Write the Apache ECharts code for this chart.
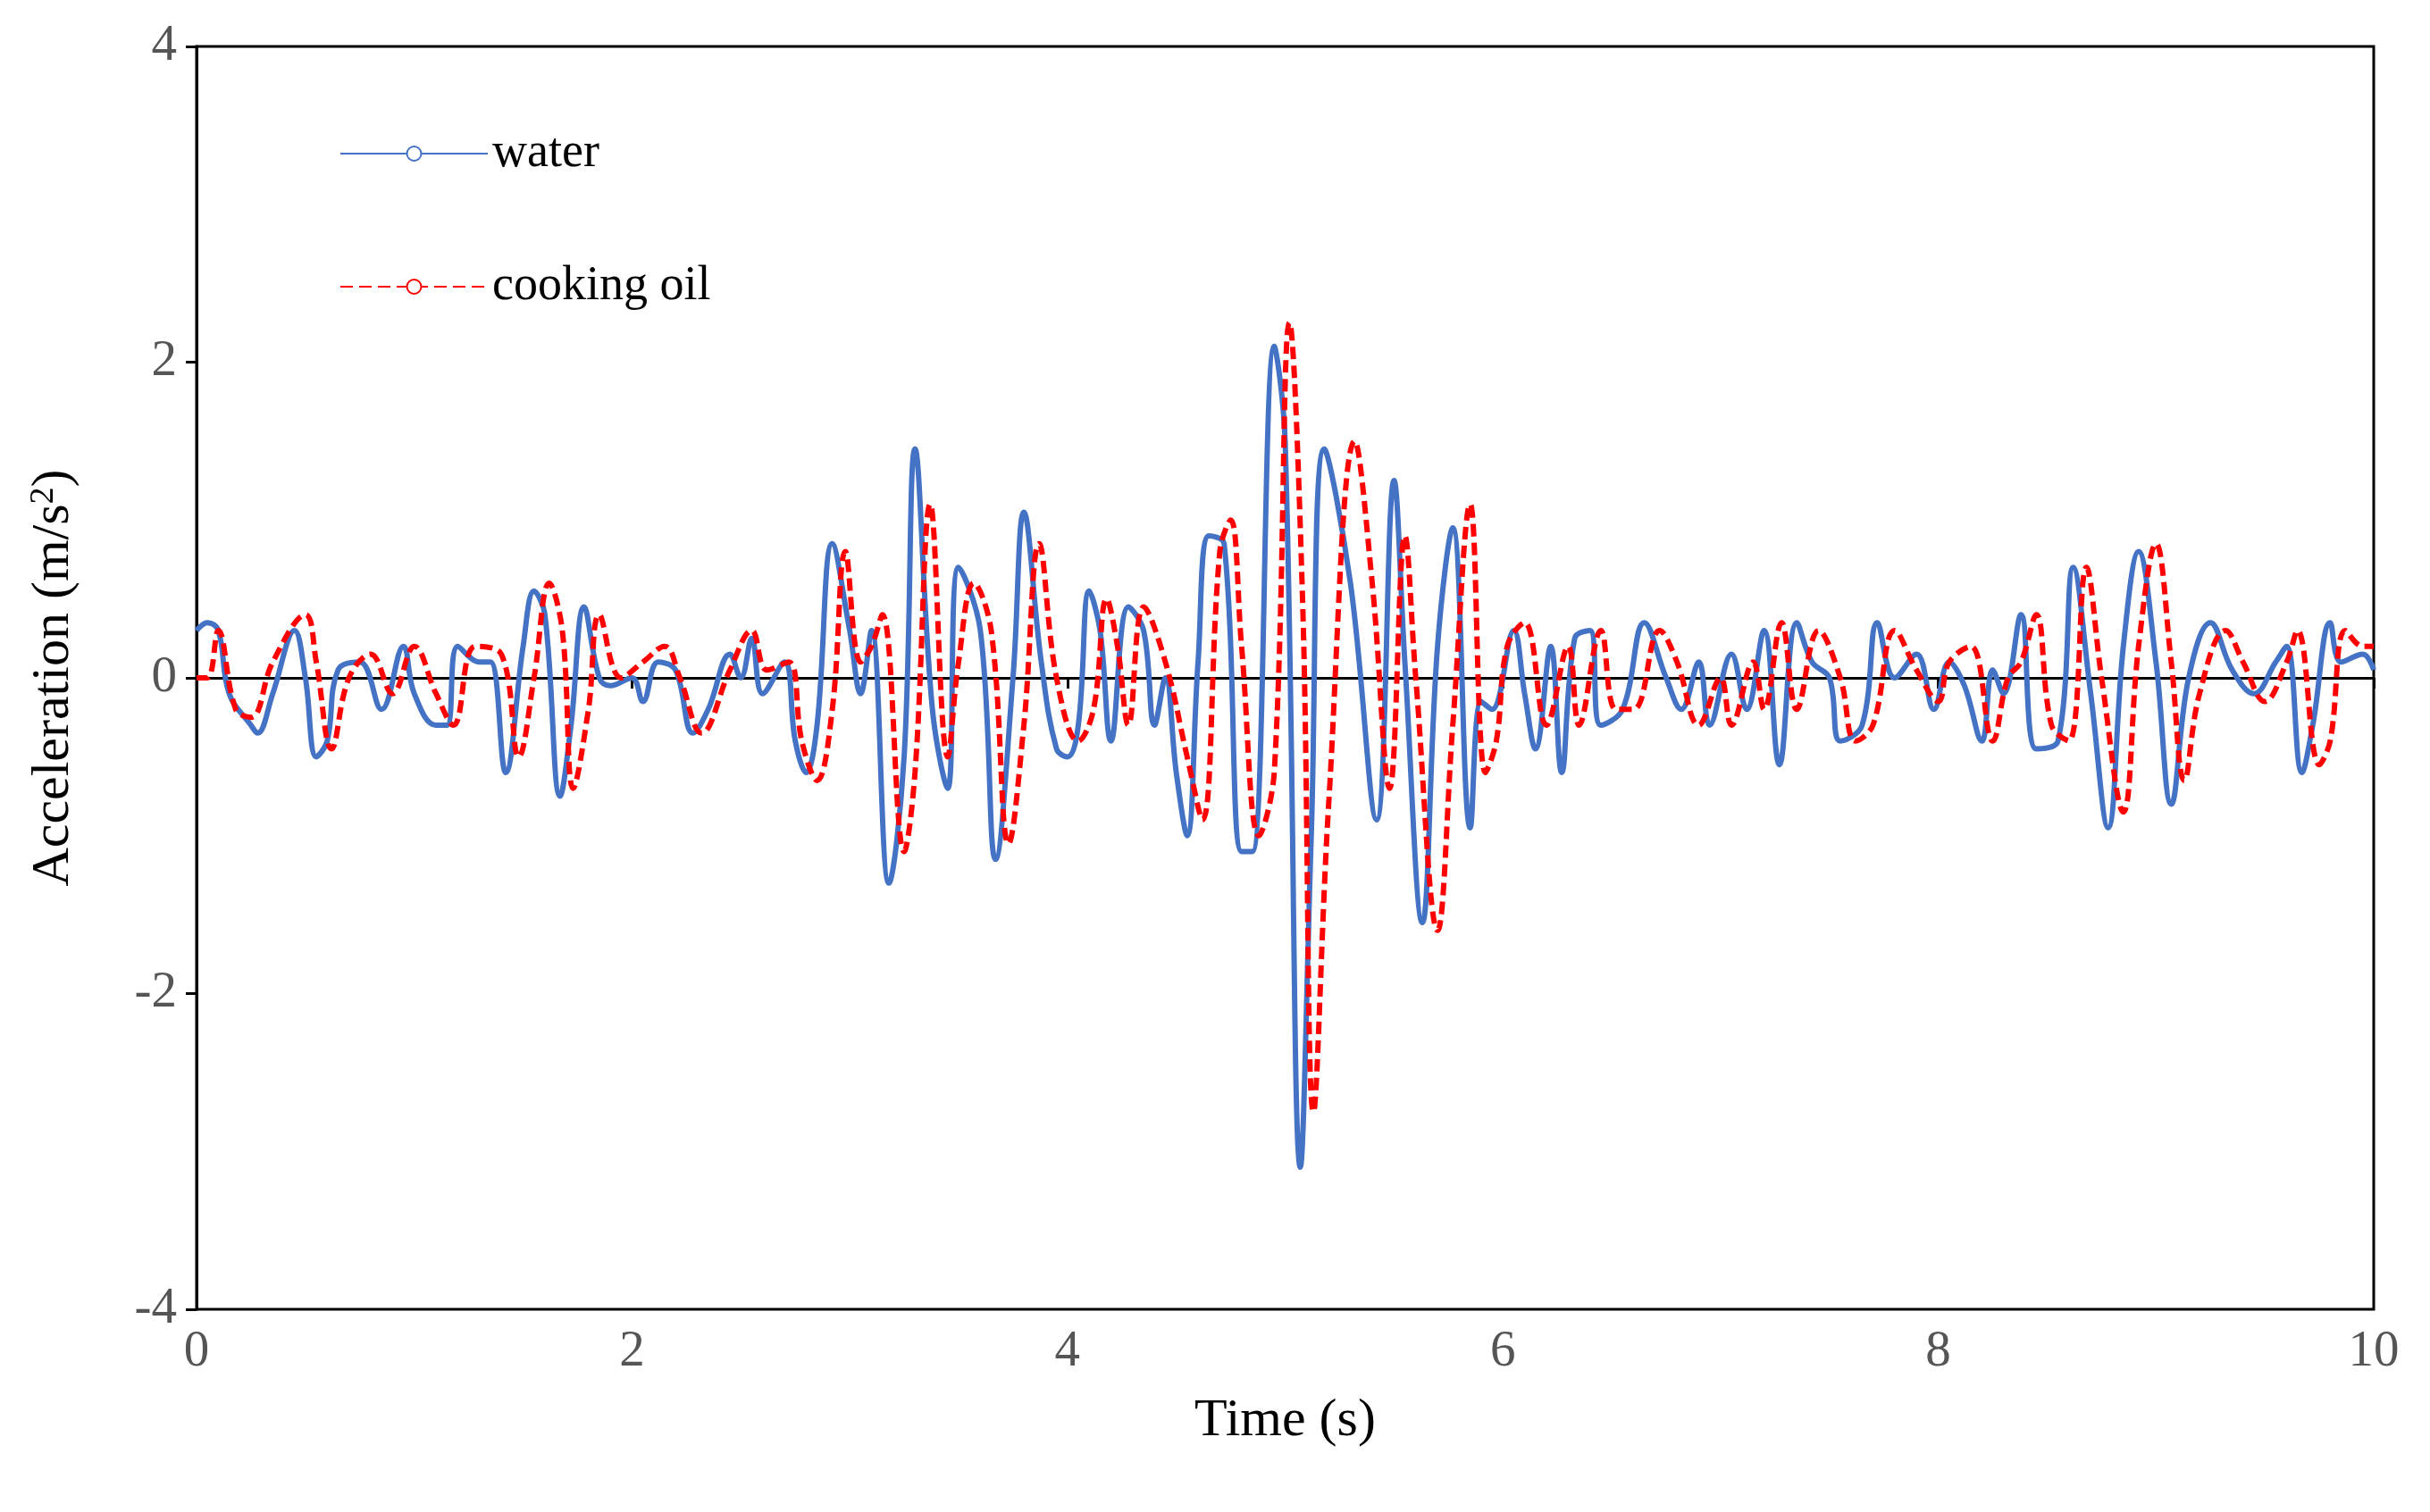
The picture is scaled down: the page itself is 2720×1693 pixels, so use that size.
<!DOCTYPE html>
<html>
<head>
<meta charset="utf-8">
<script src="https://cdn.jsdelivr.net/npm/echarts@6/dist/echarts.min.js"></script>
<style>
  html, body { margin: 0; padding: 0; background: #fff; }
  #main { width: 2720px; height: 1693px; }
</style>
</head>
<body>
<div id="main"></div>
<script>
// water: [time, acceleration]
var waterData = [
  [0,0.3],[0.05,0.35],[0.1,0.3],[0.15,-0.1],[0.25,-0.3],[0.28,-0.35],[0.35,-0.1],[0.45,0.3],[0.5,0.0],[0.55,-0.5],
  [0.6,-0.4],[0.65,0.05],[0.75,0.1],[0.85,-0.2],[0.95,0.2],[1.0,-0.1],[1.1,-0.3],[1.15,-0.3],[1.2,0.2],[1.3,0.1],
  [1.35,0.1],[1.42,-0.6],[1.5,0.2],[1.55,0.55],[1.6,0.4],[1.67,-0.75],[1.72,-0.3],[1.78,0.45],[1.85,0],[1.9,-0.05],
  [2.0,0],[2.05,-0.15],[2.12,0.1],[2.2,0.05],[2.28,-0.35],[2.35,-0.2],[2.45,0.15],[2.5,0.0],[2.55,0.25],[2.6,-0.1],
  [2.7,0.1],[2.75,-0.4],[2.8,-0.6],[2.85,-0.3],[2.92,0.85],[3.0,0.3],[3.05,-0.1],[3.1,0.3],[3.18,-1.3],[3.25,-0.5],
  [3.3,1.45],[3.38,-0.2],[3.45,-0.7],[3.5,0.7],[3.6,0.3],[3.67,-1.15],[3.75,0.0],[3.8,1.05],[3.88,0.1],[3.95,-0.45],
  [4.0,-0.5],[4.05,-0.3],[4.1,0.55],[4.15,0.3],[4.2,-0.4],[4.28,0.45],[4.35,0.3],[4.4,-0.3],[4.45,0],[4.5,-0.6],
  [4.55,-1.0],[4.6,0.1],[4.65,0.9],[4.72,0.85],[4.8,-1.1],[4.85,-1.1],[4.95,2.1],[5.0,1.5],[5.07,-3.1],[5.12,-1.0],
  [5.18,1.45],[5.3,0.6],[5.42,-0.9],[5.5,1.25],[5.55,0.1],[5.63,-1.55],[5.7,0.2],[5.77,0.95],[5.85,-0.95],[5.9,-0.15],
  [5.95,-0.2],[6.05,0.3],[6.1,-0.1],[6.15,-0.45],[6.22,0.2],[6.27,-0.6],[6.33,0.25],[6.4,0.3],[6.45,-0.3],[6.55,-0.2],
  [6.65,0.35],[6.75,0.0],[6.82,-0.2],[6.9,0.1],[6.95,-0.3],[7.05,0.15],[7.12,-0.2],[7.2,0.3],[7.27,-0.55],[7.35,0.35],
  [7.42,0.1],[7.5,0.0],[7.55,-0.4],[7.65,-0.3],[7.72,0.35],[7.8,0.0],[7.9,0.15],[7.98,-0.2],[8.05,0.1],[8.12,-0.05],
  [8.2,-0.4],[8.25,0.05],[8.3,-0.1],[8.38,0.4],[8.45,-0.45],[8.55,-0.4],[8.62,0.7],[8.7,-0.1],[8.78,-0.95],[8.85,0.2],
  [8.92,0.8],[9.0,0.1],[9.07,-0.8],[9.15,0.0],[9.25,0.35],[9.35,0.05],[9.45,-0.1],[9.55,0.1],[9.6,0.2],[9.67,-0.6],
  [9.72,-0.3],[9.8,0.35],[9.85,0.1],[9.95,0.15],[10,0.05]
];
// cooking oil: [time, acceleration]
var oilData = [
  [0,0.0],[0.05,0.0],[0.1,0.3],[0.18,-0.2],[0.25,-0.25],[0.35,0.1],[0.5,0.4],[0.55,0.1],[0.62,-0.45],[0.7,0.0],
  [0.8,0.15],[0.9,-0.1],[1.0,0.2],[1.1,-0.1],[1.18,-0.3],[1.28,0.2],[1.4,0.15],[1.48,-0.5],[1.55,0.0],[1.62,0.6],
  [1.68,0.3],[1.73,-0.7],[1.8,-0.2],[1.85,0.4],[1.95,0.0],[2.05,0.1],[2.15,0.2],[2.22,0.0],[2.32,-0.35],[2.45,0.05],
  [2.55,0.3],[2.62,0.05],[2.72,0.1],[2.78,-0.4],[2.85,-0.65],[2.92,-0.2],[2.98,0.8],[3.05,0.1],[3.1,0.2],[3.15,0.4],
  [3.25,-1.1],[3.3,-0.6],[3.37,1.1],[3.45,-0.5],[3.5,0.1],[3.57,0.6],[3.65,0.3],[3.73,-1.05],[3.8,-0.3],[3.87,0.85],
  [3.95,0.0],[4.05,-0.4],[4.12,-0.2],[4.18,0.5],[4.23,0.2],[4.28,-0.3],[4.35,0.45],[4.45,0.1],[4.55,-0.5],[4.62,-0.9],
  [4.7,0.8],[4.75,1.0],[4.8,0.2],[4.88,-1.0],[4.95,-0.6],[5.02,2.25],[5.08,0.5],[5.13,-2.75],[5.2,-0.8],[5.32,1.5],
  [5.4,0.6],[5.48,-0.7],[5.55,0.9],[5.6,0.0],[5.7,-1.6],[5.77,-0.3],[5.85,1.1],[5.92,-0.6],[5.97,-0.4],[6.02,0.2],
  [6.1,0.35],[6.2,-0.3],[6.3,0.2],[6.35,-0.3],[6.45,0.3],[6.52,-0.2],[6.6,-0.2],[6.72,0.3],[6.8,0.1],[6.9,-0.3],
  [7.0,0.0],[7.05,-0.3],[7.15,0.1],[7.2,-0.2],[7.28,0.35],[7.35,-0.2],[7.45,0.3],[7.55,0.0],[7.62,-0.4],[7.7,-0.3],
  [7.8,0.3],[7.9,0.05],[8.0,-0.15],[8.05,0.1],[8.15,0.2],[8.25,-0.4],[8.32,0.0],[8.38,0.1],[8.45,0.4],[8.52,-0.3],
  [8.6,-0.4],[8.68,0.7],[8.75,0.0],[8.85,-0.85],[8.92,0.2],[9.0,0.85],[9.07,0.1],[9.13,-0.65],[9.2,-0.1],[9.32,0.3],
  [9.4,0.1],[9.5,-0.15],[9.6,0.1],[9.65,0.3],[9.75,-0.55],[9.8,-0.4],[9.87,0.3],[9.95,0.2],[10,0.2]
];
var seriesNames = ['water', 'cooking oil'];

var font = 'Liberation Serif';
var chart = echarts.init(document.getElementById('main'));
chart.setOption({
  animation: false,
  backgroundColor: '#fff',
  grid: { left: 220, right: 63, top: 52, bottom: 227, show: true, borderColor: '#000', borderWidth: 3 },
  legend: {
    orient: 'vertical', left: 375, top: 140, itemGap: 95,
    itemWidth: 165, itemHeight: 20,
    textStyle: { fontFamily: font, fontSize: 54, color: '#000' },
    data: seriesNames
  },
  xAxis: {
    type: 'value', min: 0, max: 10, interval: 2,
    name: 'Time (s)', nameLocation: 'middle', nameGap: 95,
    nameTextStyle: { fontFamily: font, fontSize: 60, color: '#000' },
    axisLine: { lineStyle: { color: '#000', width: 3 } },
    axisTick: { show: true, length: 12, lineStyle: { color: '#000', width: 3 } },
    axisLabel: { fontFamily: font, fontSize: 57, color: '#555', margin: 20 },
    splitLine: { show: false }
  },
  yAxis: {
    type: 'value', min: -4, max: 4, interval: 2,
    name: 'Acceleration (m/s{sup|2})', nameLocation: 'middle', nameGap: 130,
    nameTextStyle: { fontFamily: font, fontSize: 60, color: '#000',
      rich: { sup: { fontFamily: font, fontSize: 38, verticalAlign: 'top', padding: [0, 0, 22, 0] } } },
    axisLine: { lineStyle: { color: '#000', width: 3 } },
    axisTick: { show: true, length: 12, lineStyle: { color: '#000', width: 3 } },
    axisLabel: { fontFamily: font, fontSize: 57, color: '#555', margin: 22 },
    splitLine: { show: false }
  },
  series: [
    { name: seriesNames[0], type: 'line', data: waterData, smooth: 0.4, showSymbol: false,
      itemStyle: { color: '#4472C4' }, lineStyle: { color: '#4472C4', width: 6 } },
    { name: seriesNames[1], type: 'line', data: oilData, smooth: 0.4, showSymbol: false,
      itemStyle: { color: '#FF0000' }, lineStyle: { color: '#FF0000', width: 6, type: [14, 7] } }
  ]
});
</script>
</body>
</html>
